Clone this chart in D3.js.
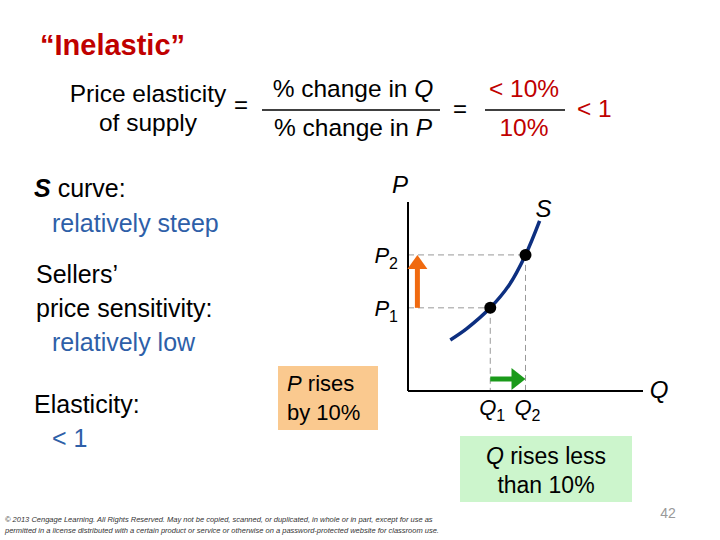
<!DOCTYPE html>
<html>
<head>
<meta charset="UTF-8">
<script src="https://cdn.jsdelivr.net/npm/d3@7"></script>
<style>
  body { margin: 0; background: #fff; }
  text { font-family: Arial, "Liberation Sans", sans-serif; }
</style>
</head>
<body>
<div id="chart"></div>
<script>
  // supply curve points (Q, P), on a 0-100 scale
  var curveQ = [18, 25, 35, 43, 50, 56];
  var curveP = [27, 33, 44, 56, 72, 90];
  var pointQ = [35, 50];
  var pointP = [44, 72];
  var priceLabels = ['P1', 'P2'];
  var qtyLabels = ['Q1', 'Q2'];

  var svg = d3.select('#chart').append('svg')
    .attr('width', 720).attr('height', 540);

  var x = d3.scaleLinear().domain([0, 100]).range([408, 643]);
  var y = d3.scaleLinear().domain([0, 100]).range([391, 202]);

  function txt(xp, yp, s, size, color, anchor, style) {
    return svg.append('text').attr('x', xp).attr('y', yp)
      .attr('font-size', size).attr('fill', color || '#000')
      .attr('text-anchor', anchor || 'start')
      .attr('font-style', style || 'normal').text(s);
  }

  // title and formula
  txt(40, 55, '“Inelastic”', 29, '#c00000').attr('font-weight', 'bold')
    .attr('font-family', 'Liberation Serif, Times New Roman, serif');
  txt(148, 102, 'Price elasticity', 24.5, '#000', 'middle');
  txt(148, 131, 'of supply', 24.5, '#000', 'middle');
  txt(234, 113, '=', 24);
  var t1 = txt(353, 97, '% change in ', 24.5, '#000', 'middle');
  t1.append('tspan').attr('font-style', 'italic').text('Q');
  svg.append('line').attr('x1', 262).attr('x2', 440).attr('y1', 110).attr('y2', 110).attr('stroke', '#000').attr('stroke-width', 1.5);
  var t2 = txt(353, 136, '% change in ', 24.5, '#000', 'middle');
  t2.append('tspan').attr('font-style', 'italic').text('P');
  txt(453, 117, '=', 24);
  txt(524, 97, '< 10%', 24.5, '#c00000', 'middle');
  svg.append('line').attr('x1', 485).attr('x2', 565).attr('y1', 110).attr('y2', 110).attr('stroke', '#000').attr('stroke-width', 1.5);
  txt(524, 136, '10%', 24.5, '#c00000', 'middle');
  txt(577, 117, '< 1', 24.5, '#c00000');

  // left text
  var s = txt(34, 197, 'S', 25, '#000', 'start', 'italic');
  s.attr('font-weight', 'bold');
  s.append('tspan').attr('font-style', 'normal').attr('font-weight', 'normal').text(' curve:');
  txt(52, 232, 'relatively steep', 25, '#2e5fa8');
  txt(36, 283, 'Sellers’', 25);
  txt(36, 317, 'price sensitivity:', 25);
  txt(52, 351, 'relatively low', 25, '#2e5fa8');
  txt(34, 413, 'Elasticity:', 25);
  txt(52, 447, '< 1', 25, '#2e5fa8');

  // boxes
  svg.append('rect').attr('x', 278).attr('y', 366).attr('width', 100).attr('height', 64).attr('fill', '#fac98f');
  var b1 = txt(287, 391, 'P', 22, '#000', 'start', 'italic');
  b1.append('tspan').attr('font-style', 'normal').text('  rises');
  txt(287, 420, 'by 10%', 22);
  svg.append('rect').attr('x', 460).attr('y', 436).attr('width', 172).attr('height', 66).attr('fill', '#ccf5cc');
  var b2 = txt(546, 464, 'Q', 23, '#000', 'middle', 'italic');
  b2.append('tspan').attr('font-style', 'normal').text('  rises less');
  txt(546, 493, 'than 10%', 23, '#000', 'middle');

  // dashed guides
  pointQ.forEach(function (q, i) {
    var p = pointP[i];
    svg.append('line').attr('x1', x(0)).attr('x2', x(q)).attr('y1', y(p)).attr('y2', y(p))
      .attr('stroke', '#999').attr('stroke-dasharray', '6,4');
    svg.append('line').attr('x1', x(q)).attr('x2', x(q)).attr('y1', y(p)).attr('y2', y(0))
      .attr('stroke', '#999').attr('stroke-dasharray', '6,4');
  });

  // supply curve
  var line = d3.line().x(function (d) { return x(d[0]); }).y(function (d) { return y(d[1]); })
    .curve(d3.curveCatmullRom);
  svg.append('path').datum(d3.zip(curveQ, curveP)).attr('d', line)
    .attr('fill', 'none').attr('stroke', '#0d2f80').attr('stroke-width', 3.5);

  svg.selectAll('.pt').data(d3.zip(pointQ, pointP)).enter().append('circle')
    .attr('cx', function (d) { return x(d[0]); }).attr('cy', function (d) { return y(d[1]); })
    .attr('r', 6).attr('fill', '#000');

  // axes
  svg.append('line').attr('x1', x(0)).attr('x2', x(0)).attr('y1', y(0)).attr('y2', y(100)).attr('stroke', '#000').attr('stroke-width', 2);
  svg.append('line').attr('x1', x(0)).attr('x2', x(100)).attr('y1', y(0)).attr('y2', y(0)).attr('stroke', '#000').attr('stroke-width', 2);
  txt(x(0) - 8, 193, 'P', 24, '#000', 'middle', 'italic');
  txt(x(100) + 16, 398, 'Q', 24, '#000', 'middle', 'italic');
  txt(x(56) + 4, 217, 'S', 24, '#000', 'middle', 'italic');

  priceLabels.forEach(function (l, i) {
    var t = txt(x(0) - 10, y(pointP[i]) + 8, l[0], 22, '#000', 'end', 'italic');
    t.append('tspan').attr('font-style', 'normal').attr('font-size', 16).attr('dy', 6).text(l[1]);
  });
  qtyLabels.forEach(function (l, i) {
    var t = txt(x(pointQ[i]) + 2, 415, l[0], 22, '#000', 'middle', 'italic');
    t.append('tspan').attr('font-style', 'normal').attr('font-size', 16).attr('dy', 6).text(l[1]);
  });

  // arrows
  var upX = x(4);
  svg.append('line').attr('x1', upX).attr('x2', upX).attr('y1', y(pointP[0])).attr('y2', y(pointP[1]) + 12)
    .attr('stroke', '#f06a10').attr('stroke-width', 5);
  svg.append('path').attr('d', 'M' + (upX - 10) + ',' + (y(pointP[1]) + 14) + 'L' + upX + ',' + y(pointP[1]) + 'L' + (upX + 10) + ',' + (y(pointP[1]) + 14) + 'Z')
    .attr('fill', '#f06a10');
  var arY = 379;
  svg.append('line').attr('x1', x(pointQ[0])).attr('x2', x(pointQ[1]) - 12).attr('y1', arY).attr('y2', arY)
    .attr('stroke', '#1a9a1a').attr('stroke-width', 5);
  svg.append('path').attr('d', 'M' + (x(pointQ[1]) - 14) + ',' + (arY - 11) + 'L' + x(pointQ[1]) + ',' + arY + 'L' + (x(pointQ[1]) - 14) + ',' + (arY + 11) + 'Z')
    .attr('fill', '#1a9a1a');

  // footer
  txt(5, 522, '© 2013 Cengage Learning. All Rights Reserved. May not be copied, scanned, or duplicated, in whole or in part, except for use as', 7.5, '#333', 'start', 'italic').attr('font-family', 'Liberation Serif, serif');
  txt(5, 533, 'permitted in a license distributed with a certain product or service or otherwise on a password-protected website for classroom use.', 7.5, '#333', 'start', 'italic').attr('font-family', 'Liberation Serif, serif');
  txt(668, 518, '42', 14, '#999', 'middle');
</script>
</body>
</html>
